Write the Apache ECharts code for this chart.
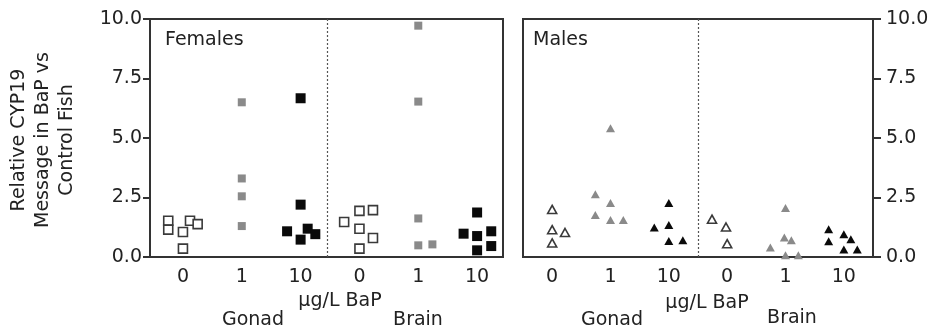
<!DOCTYPE html>
<html>
<head>
<meta charset="utf-8">
<script src="https://cdn.jsdelivr.net/npm/echarts@6/dist/echarts.min.js"></script>
<style>html,body{margin:0;padding:0;background:#fff}#c{width:935px;height:332px}</style>
</head>
<body>
<div id="c"></div>
<script>
// Category tick labels (dose, µg/L BaP) for Gonad (positions 0-2) and Brain (3-5)
const doseLabels = ['0', '1', '10', '0', '1', '10'];
const yTicks = [0, 2.5, 5, 7.5, 10];
// Each point: [group position + small horizontal spread as drawn, relative CYP19 value]
// Females (squares)
const femCtrl = [[-0.25,1.52],[-0.25,1.15],[0,1.05],[0.12,1.52],[0.25,1.38],[0,0.35],
                 [2.74,1.47],[3,1.94],[3.23,1.97],[3,1.19],[3.23,0.8],[3,0.35]];
const femDose1 = [[1,6.5],[1,3.3],[1,2.55],[1,1.3],
                  [4,9.72],[4,6.53],[4,1.62],[4,0.49],[4.24,0.53]];
const femDose10 = [[2,6.67],[2,2.2],[1.77,1.08],[2.12,1.19],[2,0.73],[2.25,0.96],
                   [5,1.87],[4.77,0.98],[5,0.88],[5.24,1.08],[5.24,0.46],[5,0.28]];
// Males (triangles)
const maleCtrl = [[0,2.0],[0,1.15],[0.22,1.03],[0,0.59],
                  [2.74,1.59],[2.98,1.26],[3,0.56]];
const maleDose1 = [[1,5.41],[0.74,2.64],[1,2.27],[0.74,1.76],[1,1.55],[1.22,1.55],
                   [4,2.06],[3.74,0.40],[3.98,0.82],[4.1,0.70],[4,0.07],[4.22,0.07]];
const maleDose10 = [[2,2.27],[1.75,1.24],[2,1.34],[2,0.67],[2.24,0.70],
                    [4.74,1.17],[4.74,0.66],[5,0.96],[5.12,0.75],[5,0.32],[5.23,0.32]];
// Tissue divider between Gonad and Brain groups
const femDivider = 2.45;
const maleDivider = 2.5;

const FONT = 'DejaVu Sans';
const TXT = '#222';
const chart = echarts.init(document.getElementById('c'), null, {renderer: 'canvas'});

function xAxisFor(gridIndex, min, max) {
  return {
    type: 'value', gridIndex, min, max,
    axisLine: {show: true, onZero: false, lineStyle: {color: '#333', width: 2}},
    axisTick: {show: false},
    splitLine: {show: false},
    axisLabel: {
      customValues: [0, 1, 2, 3, 4, 5],
      formatter: v => doseLabels[Math.round(v)],
      color: TXT, fontFamily: FONT, fontSize: 19, margin: 11
    }
  };
}
function yAxisFor(gridIndex, position, margin, tickLen) {
  return {
    type: 'value', gridIndex, position, min: 0, max: 10, interval: 2.5,
    axisLine: {show: true, onZero: false, lineStyle: {color: '#333', width: 2}},
    axisTick: {show: true, inside: false, length: tickLen, lineStyle: {color: '#333', width: 2}},
    splitLine: {show: false},
    axisLabel: {customValues: yTicks, formatter: v => v.toFixed(1), color: TXT, fontFamily: FONT, fontSize: 19, margin}
  };
}
const openStyle = {color: '#fff', borderColor: '#3a3a3a', borderWidth: 1.6, opacity: 1};
const grayStyle = {color: '#8a8a8a', opacity: 1};
const blackStyle = {color: '#0a0a0a', opacity: 1};
function dividerLine(x) {
  return {
    silent: true, symbol: 'none', label: {show: false},
    lineStyle: {type: [2, 2], color: '#555', width: 1.2},
    data: [{xAxis: x}]
  };
}

chart.setOption({
  animation: false,
  backgroundColor: '#fff',
  grid: [
    {left: 150, top: 19, width: 353, height: 238, show: true, borderColor: '#333', borderWidth: 2, backgroundColor: 'transparent'},
    {left: 523, top: 19, width: 350, height: 238, show: true, borderColor: '#333', borderWidth: 2, backgroundColor: 'transparent'}
  ],
  xAxis: [xAxisFor(0, -0.56, 5.44), xAxisFor(1, -0.5, 5.5)],
  yAxis: [yAxisFor(0, 'left', 8, 7), yAxisFor(1, 'right', 13, 8)],
  series: [
    {type: 'scatter', xAxisIndex: 0, yAxisIndex: 0, symbol: 'rect', symbolSize: 9, itemStyle: openStyle, data: femCtrl, markLine: dividerLine(femDivider)},
    {type: 'scatter', xAxisIndex: 0, yAxisIndex: 0, symbol: 'rect', symbolSize: 8, itemStyle: grayStyle, data: femDose1},
    {type: 'scatter', xAxisIndex: 0, yAxisIndex: 0, symbol: 'rect', symbolSize: 10, itemStyle: blackStyle, data: femDose10},
    {type: 'scatter', xAxisIndex: 1, yAxisIndex: 1, symbol: 'triangle', symbolSize: [9, 8], itemStyle: openStyle, data: maleCtrl, markLine: dividerLine(maleDivider)},
    {type: 'scatter', xAxisIndex: 1, yAxisIndex: 1, symbol: 'triangle', symbolSize: [9, 8], itemStyle: grayStyle, data: maleDose1},
    {type: 'scatter', xAxisIndex: 1, yAxisIndex: 1, symbol: 'triangle', symbolSize: [9, 8], itemStyle: blackStyle, data: maleDose10}
  ],
  graphic: [
    {type: 'text', left: 165, top: 31, style: {text: 'Females', fill: TXT, font: '19px "DejaVu Sans"'}},
    {type: 'text', left: 533, top: 31, style: {text: 'Males', fill: TXT, font: '19px "DejaVu Sans"'}},
    {type: 'text', x: 43, y: 140, rotation: Math.PI / 2,
     style: {text: 'Relative CYP19\nMessage in BaP vs\nControl Fish', fill: TXT, font: '19px "DejaVu Sans"', align: 'center', verticalAlign: 'middle', lineHeight: 24}},
    {type: 'text', x: 340, y: 301, style: {text: 'µg/L BaP', fill: TXT, font: '19px "DejaVu Sans"', align: 'center', verticalAlign: 'middle'}},
    {type: 'text', x: 253, y: 320, style: {text: 'Gonad', fill: TXT, font: '19px "DejaVu Sans"', align: 'center', verticalAlign: 'middle'}},
    {type: 'text', x: 418, y: 320, style: {text: 'Brain', fill: TXT, font: '19px "DejaVu Sans"', align: 'center', verticalAlign: 'middle'}},
    {type: 'text', x: 707, y: 303, style: {text: 'µg/L BaP', fill: TXT, font: '19px "DejaVu Sans"', align: 'center', verticalAlign: 'middle'}},
    {type: 'text', x: 612, y: 320, style: {text: 'Gonad', fill: TXT, font: '19px "DejaVu Sans"', align: 'center', verticalAlign: 'middle'}},
    {type: 'text', x: 792, y: 318, style: {text: 'Brain', fill: TXT, font: '19px "DejaVu Sans"', align: 'center', verticalAlign: 'middle'}}
  ]
});
</script>
</body>
</html>
